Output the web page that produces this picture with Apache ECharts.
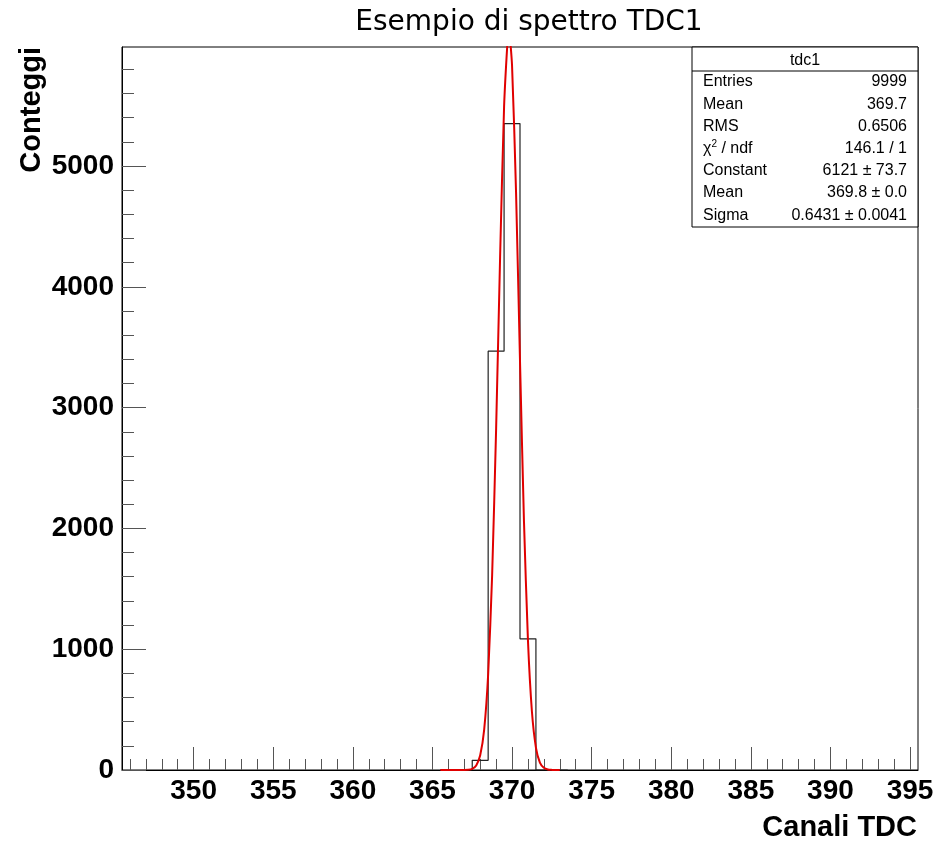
<!DOCTYPE html>
<html>
<head>
<meta charset="utf-8">
<title>Esempio di spettro TDC1</title>
<script src="https://cdn.jsdelivr.net/npm/echarts@6/dist/echarts.min.js"></script>
<style>
html,body{margin:0;padding:0;background:#fff;}
#main{width:944px;height:844px;}
</style>
</head>
<body>
<div id="main"></div>
<script>
// histogram bins (width 1) around the peak, everything else is empty
var binCenters = [366, 367, 368, 369, 370, 371, 372, 373];
var binCounts = [0, 0, 80, 3467, 5351, 1086, 0, 0];

// gaussian fit
var fitX = [365.5, 366, 366.5, 366.75, 367, 367.25, 367.5, 367.75, 368, 368.25, 368.5, 368.75, 369, 369.25, 369.5, 369.75, 369.8,
    370, 370.25, 370.5, 370.75, 371, 371.25, 371.5, 371.75, 372, 372.25, 372.5, 372.75, 373];
var fitY = [0, 0, 0, 0.1, 0.5, 2.4, 10, 38, 122, 335, 793, 1614, 2824, 4246, 5490, 6103, 6121,
    5832, 4792, 3385, 2056, 1073, 482, 186, 62, 18, 4, 1, 0.2, 0];

var xMajorTicks = [350, 355, 360, 365, 370, 375, 380, 385, 390, 395];
var xMinorTicks = [346, 347, 348, 349, 351, 352, 353, 354, 356, 357, 358, 359, 361, 362, 363, 364, 366, 367, 368, 369,
    371, 372, 373, 374, 376, 377, 378, 379, 381, 382, 383, 384, 386, 387, 388, 389, 391, 392, 393, 394];
var yMajorTicks = [0, 1000, 2000, 3000, 4000, 5000];
var yMinorTicks = [200, 400, 600, 800, 1200, 1400, 1600, 1800, 2200, 2400, 2600, 2800, 3200, 3400, 3600, 3800,
    4200, 4400, 4600, 4800, 5200, 5400, 5600, 5800];

var statTitle = 'tdc1';
var statNames = ['Entries', 'Mean', 'RMS', '{chi|χ}{sup|2}{n| / ndf}', 'Constant', 'Mean', 'Sigma'];
var statValues = ['9999', '369.7', '0.6506', '146.1 / 1', '6121 ± 73.7', '369.8 ± 0.0', '0.6431 ± 0.0041'];

var xMin = 345.5, xMax = 395.5, yMax = 5985;

var chart = echarts.init(document.getElementById('main'), null, {renderer: 'canvas'});

var histPoints = [];
for (var i = 0; i < binCenters.length; i++) {
    histPoints.push([binCenters[i] - 0.5, binCounts[i]]);
    histPoints.push([binCenters[i] + 0.5, binCounts[i]]);
}
var fitPoints = fitX.map(function (x, k) {
    return [x, fitY[k]];
});

var numFont = '"Liberation Sans", Arial, sans-serif';
var tickColor = '#555';
var plain = function (v) {
    return String(v);
};

var statEls = [
    {type: 'rect', shape: {x: 692, y: 47, width: 226, height: 180}, style: {fill: '#fff', stroke: '#000', lineWidth: 1}, z: 10},
    {type: 'line', shape: {x1: 692, y1: 71, x2: 918, y2: 71}, style: {stroke: '#000', lineWidth: 1}, z: 11},
    {type: 'text', x: 805, y: 61, z: 11, style: {text: statTitle, align: 'center', verticalAlign: 'middle',
        font: '16px "Liberation Sans", Arial, sans-serif', fill: '#000'}}
];
for (var r = 0; r < statNames.length; r++) {
    var ry = 82 + r * 22.2;
    statEls.push({type: 'text', x: 703, y: ry, z: 11, style: {
        text: statNames[r], align: 'left', verticalAlign: 'middle',
        font: '16px "Liberation Sans", Arial, sans-serif', fill: '#000',
        rich: {
            chi: {fontSize: 16, fontFamily: '"Liberation Sans", Arial, sans-serif'},
            sup: {fontSize: 10, verticalAlign: 'top', padding: [0, 0, 8, 0], fontFamily: '"Liberation Sans", Arial, sans-serif'},
            n: {fontSize: 16, fontFamily: '"Liberation Sans", Arial, sans-serif'}
        }
    }});
    statEls.push({type: 'text', x: 907, y: ry, z: 11, style: {
        text: statValues[r], align: 'right', verticalAlign: 'middle',
        font: '16px "Liberation Sans", Arial, sans-serif', fill: '#000'
    }});
}

var option = {
    animation: false,
    backgroundColor: '#fff',
    grid: {
        left: 122, top: 47, right: 26, bottom: 74,
        show: true, borderColor: '#000', borderWidth: 1, backgroundColor: 'transparent'
    },
    xAxis: [{
        type: 'value', min: xMin, max: xMax, position: 'bottom',
        axisLine: {show: true, lineStyle: {color: '#000', width: 1}},
        axisTick: {show: true, inside: true, length: 23, customValues: xMajorTicks, lineStyle: {color: tickColor}},
        axisLabel: {customValues: xMajorTicks, formatter: plain, margin: 7, color: '#000', fontSize: 28, fontWeight: 'bold', fontFamily: numFont},
        splitLine: {show: false}
    }, {
        type: 'value', min: xMin, max: xMax, position: 'bottom',
        axisLine: {show: false},
        axisTick: {show: true, inside: true, length: 11, customValues: xMinorTicks, lineStyle: {color: tickColor}},
        axisLabel: {show: false},
        splitLine: {show: false}
    }],
    yAxis: [{
        type: 'value', min: 0, max: yMax, position: 'left',
        axisLine: {show: true, lineStyle: {color: '#000', width: 1}},
        axisTick: {show: true, inside: true, length: 24, customValues: yMajorTicks, lineStyle: {color: tickColor}},
        axisLabel: {customValues: yMajorTicks, formatter: plain, margin: 8, color: '#000', fontSize: 28, fontWeight: 'bold', fontFamily: numFont},
        splitLine: {show: false}
    }, {
        type: 'value', min: 0, max: yMax, position: 'left',
        axisLine: {show: false},
        axisTick: {show: true, inside: true, length: 12, customValues: yMinorTicks, lineStyle: {color: tickColor}},
        axisLabel: {show: false},
        splitLine: {show: false}
    }],
    graphic: [
        {type: 'text', x: 529, y: 23, style: {text: 'Esempio di spettro TDC1', align: 'center', verticalAlign: 'middle',
            font: '28px "DejaVu Sans", sans-serif', fill: '#000'}},
        {type: 'text', x: 917, y: 828, style: {text: 'Canali TDC', align: 'right', verticalAlign: 'middle',
            font: 'bold 29px "Liberation Sans", Arial, sans-serif', fill: '#000'}},
        {type: 'text', x: 32, y: 47, rotation: Math.PI / 2, style: {text: 'Conteggi', align: 'right', verticalAlign: 'middle',
            font: 'bold 29px "Liberation Sans", Arial, sans-serif', fill: '#000'}}
    ].concat(statEls),
    series: [{
        name: 'tdc1',
        type: 'line',
        xAxisIndex: 0, yAxisIndex: 0,
        data: histPoints,
        symbol: 'none',
        lineStyle: {color: '#222', width: 1.2},
        z: 3
    }, {
        name: 'fit',
        type: 'line',
        xAxisIndex: 0, yAxisIndex: 0,
        data: fitPoints,
        symbol: 'none',
        smooth: 0.2,
        clip: true,
        lineStyle: {color: '#e00000', width: 2},
        z: 4
    }]
};
chart.setOption(option);
</script>
</body>
</html>
